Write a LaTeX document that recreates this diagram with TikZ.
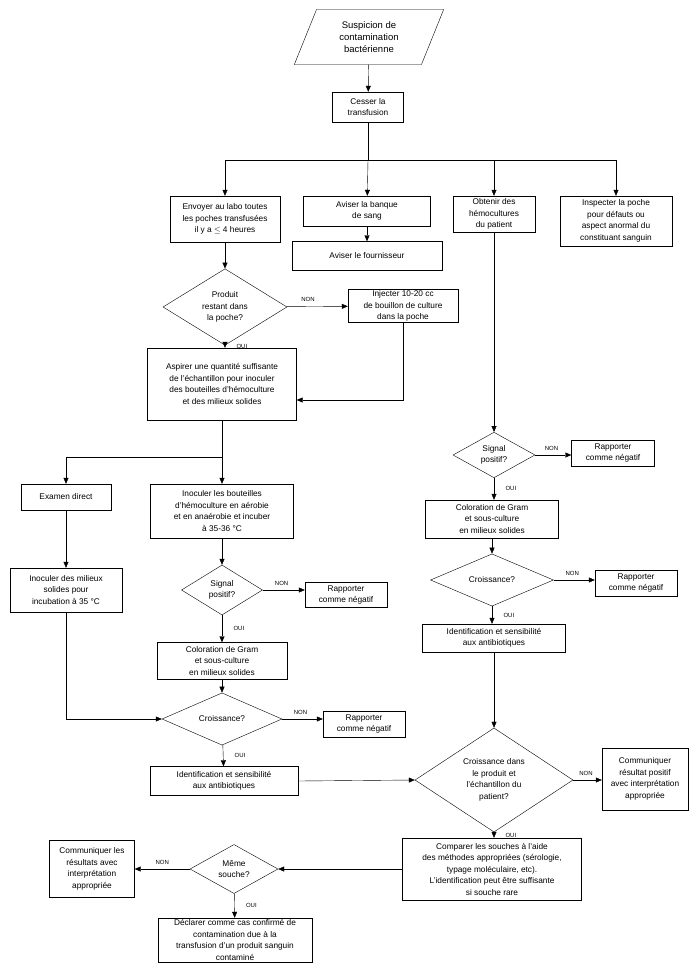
\documentclass[tikz,border=0pt]{standalone}
\usepackage{fontspec}
\setmainfont{Liberation Sans}
\usetikzlibrary{shapes.geometric,arrows.meta}
\begin{document}
\begin{tikzpicture}[
              x=1pt,y=-1pt,
              every node/.style={font=\fontsize{8.3}{11.5}\selectfont,align=center},
              box/.style={draw,thin,inner sep=1pt},
              decision/.style={draw,thin,diamond,inner sep=0pt},
              label/.style={font=\fontsize{6}{7}\selectfont},
              flow/.style={thin,-{Triangle[length=6pt,width=5pt]}},
              line/.style={thin}
            ]
            \useasboundingbox (0,0) rectangle (700,971);

            % Start
            \node[draw,thin,trapezium,trapezium left angle=68,trapezium right angle=112,
                  minimum width=120,minimum height=55,inner sep=0pt,
                  font=\fontsize{9.5}{12}\selectfont] (suspicion) at (369,37)
                  {Suspicion de\\contamination\\bactérienne};
            \node[box,minimum width=71,minimum height=30] (cesser) at (368,107) {Cesser la\\transfusion};
            \coordinate (split) at (368,160);

            % First row
            \node[box,minimum width=110,minimum height=46] (labo) at (225,219) {Envoyer au labo toutes\\les poches transfusées\\il y a $\leq$ 4 heures};
            \node[box,minimum width=127,minimum height=30] (banque) at (367,211) {Aviser la banque\\de sang};
            \node[box,minimum width=150,minimum height=29] (fournisseur) at (367,256) {Aviser le fournisseur};
            \node[box,minimum width=82,minimum height=36] (hemo) at (494,214) {Obtenir des\\hémocultures\\du patient};
            \node[box,minimum width=112,minimum height=50] (inspect) at (616,221) {Inspecter la poche\\pour défauts ou\\aspect anormal du\\constituant sanguin};

            \coordinate (sL) at (225,160);
            \coordinate (sR) at (616,160);
            \coordinate (sH) at (494,160);

            % Left branch
            \node[decision,minimum width=124,minimum height=63] (reste) at (225,307) {Produit\\restant dans\\la poche?};
            \node[box,minimum width=110,minimum height=33] (injecter) at (403,306) {Injecter 10-20 cc\\de bouillon de culture\\dans la poche};
            \node[box,minimum width=149,minimum height=72] (aspirer) at (222,384) {Aspirer une quantité suffisante\\de l'échantillon pour inoculer\\des bouteilles d'hémoculture\\et des milieux solides};
            \coordinate (aspIn) at (403,400);
            \coordinate (split2) at (222,457);
            \coordinate (split2L) at (66,457);

            \node[box,minimum width=90,minimum height=26] (examen) at (66,497) {Examen direct};
            \node[box,minimum width=143,minimum height=54] (inoculer) at (222,511) {Inoculer les bouteilles\\d'hémoculture en aérobie\\et en anaérobie et incuber\\à 35-36 °C};
            \node[box,minimum width=112,minimum height=44] (milieux) at (66,590) {Inoculer des milieux\\solides pour\\incubation à 35 °C};
            \node[decision,minimum width=81,minimum height=50] (signalA) at (222,590) {Signal\\positif?};
            \node[box,minimum width=82,minimum height=25] (rapA) at (346,595) {Rapporter\\comme négatif};
            \node[box,minimum width=130,minimum height=37] (gramA) at (222,661) {Coloration de Gram\\et sous-culture\\en milieux solides};
            \node[decision,minimum width=120,minimum height=40] (croisA) at (222,719) {Croissance?};
            \node[box,minimum width=82,minimum height=26] (rapB) at (364,724) {Rapporter\\comme négatif};
            \node[box,minimum width=148,minimum height=29] (identA) at (224,781) {Identification et sensibilité\\aux antibiotiques};
            \coordinate (milCorner) at (66,719);

            % Right branch
            \node[decision,minimum width=82,minimum height=45] (signalB) at (494,455) {Signal\\positif?};
            \node[box,minimum width=83,minimum height=26] (rapC) at (613,453) {Rapporter\\comme négatif};
            \node[box,minimum width=133,minimum height=38] (gramB) at (492,519) {Coloration de Gram\\et sous-culture\\en milieux solides};
            \node[decision,minimum width=123,minimum height=40] (croisB) at (492,580) {Croissance?};
            \node[box,minimum width=82,minimum height=26] (rapD) at (636,583) {Rapporter\\comme négatif};
            \node[box,minimum width=143,minimum height=28] (identB) at (494,638) {Identification et sensibilité\\aux antibiotiques};

            % Bottom
            \node[decision,minimum width=158,minimum height=80] (croisC) at (494,780) {Croissance dans\\le produit et\\l'échantillon du\\patient?};
            \node[box,minimum width=86,minimum height=62] (positif) at (645,779) {Communiquer\\résultat positif\\avec interprétation\\appropriée};
            \node[box,minimum width=179,minimum height=62] (comparer) at (492,869) {Comparer les souches à l'aide\\des méthodes appropriées (sérologie,\\typage moléculaire, etc).\\L'identification peut être suffisante\\si souche rare};
            \node[decision,minimum width=88,minimum height=47] (meme) at (234,869) {Même\\souche?};
            \node[box,minimum width=85,minimum height=57] (resultats) at (92,869) {Communiquer les\\résultats avec\\interprétation\\appropriée};
            \node[box,minimum width=154,minimum height=44] (declarer) at (235,940) {Déclarer comme cas confirmé de\\contamination due à la\\transfusion d'un produit sanguin\\contaminé};

            % Connectors
            \draw[flow] (suspicion) -- (cesser);
            \draw[line] (cesser) -- (split);
            \draw[line] (sL) -- (sR);
            \draw[flow] (sL) -- (labo);
            \draw[flow] (split) -- (banque);
            \draw[flow] (sH) -- (hemo);
            \draw[flow] (sR) -- (inspect);
            \draw[flow] (banque) -- (fournisseur);

            \draw[flow] (labo) -- (reste);
            \draw[flow] (reste) -- node[label,above=1pt,pos=0.35]{NON} (injecter);
            \draw[flow] (reste.south) -- node[label,right=8pt]{OUI} (aspirer.north -| reste.south);
            \draw[flow] (injecter.south) -- (aspIn) -- (aspIn -| aspirer.east);
            \draw[line] (aspirer) -- (split2);
            \draw[line] (split2) -- (split2L);
            \draw[flow] (split2L) -- (examen);
            \draw[flow] (split2) -- (inoculer);
            \draw[flow] (examen) -- (milieux);
            \draw[flow] (inoculer) -- (signalA);
            \draw[flow] (signalA.east) -- node[label,above=1pt,pos=0.45]{NON} (rapA.west |- signalA.east);
            \draw[flow] (signalA) -- node[label,right=8pt]{OUI} (gramA);
            \draw[flow] (gramA) -- (croisA);
            \draw[flow] (milieux) -- (milCorner) -- (croisA.west);
            \draw[flow] (croisA.east) -- node[label,above=1pt,pos=0.45]{NON} (rapB.west |- croisA.east);
            \draw[flow] (croisA) -- node[label,right=8pt]{OUI} (identA);
            \draw[flow] (identA.east) -- (croisC.west);

            \draw[flow] (hemo) -- (signalB);
            \draw[flow] (signalB.east) -- node[label,above=1pt,pos=0.45]{NON} (rapC.west |- signalB.east);
            \draw[flow] (signalB) -- node[label,right=8pt]{OUI} (gramB.north -| signalB.south);
            \draw[flow] (gramB) -- (croisB);
            \draw[flow] (croisB.east) -- node[label,above=1pt,pos=0.45]{NON} (rapD.west |- croisB.east);
            \draw[flow] (croisB) -- node[label,right=8pt]{OUI} (identB.north -| croisB.south);
            \draw[flow] (identB.south -| croisC.north) -- (croisC);
            \draw[flow] (croisC.east) -- node[label,above=1pt,pos=0.45]{NON} (positif.west |- croisC.east);
            \draw[flow] (croisC.south) -- node[label,right=8pt]{OUI} (comparer.north -| croisC.south);
            \draw[flow] (comparer.west) -- (meme.east);
            \draw[flow] (meme.west) -- node[label,above=1pt]{NON} (resultats.east);
            \draw[flow] (meme) -- node[label,right=8pt]{OUI} (declarer);

            \end{tikzpicture}
\end{document}
